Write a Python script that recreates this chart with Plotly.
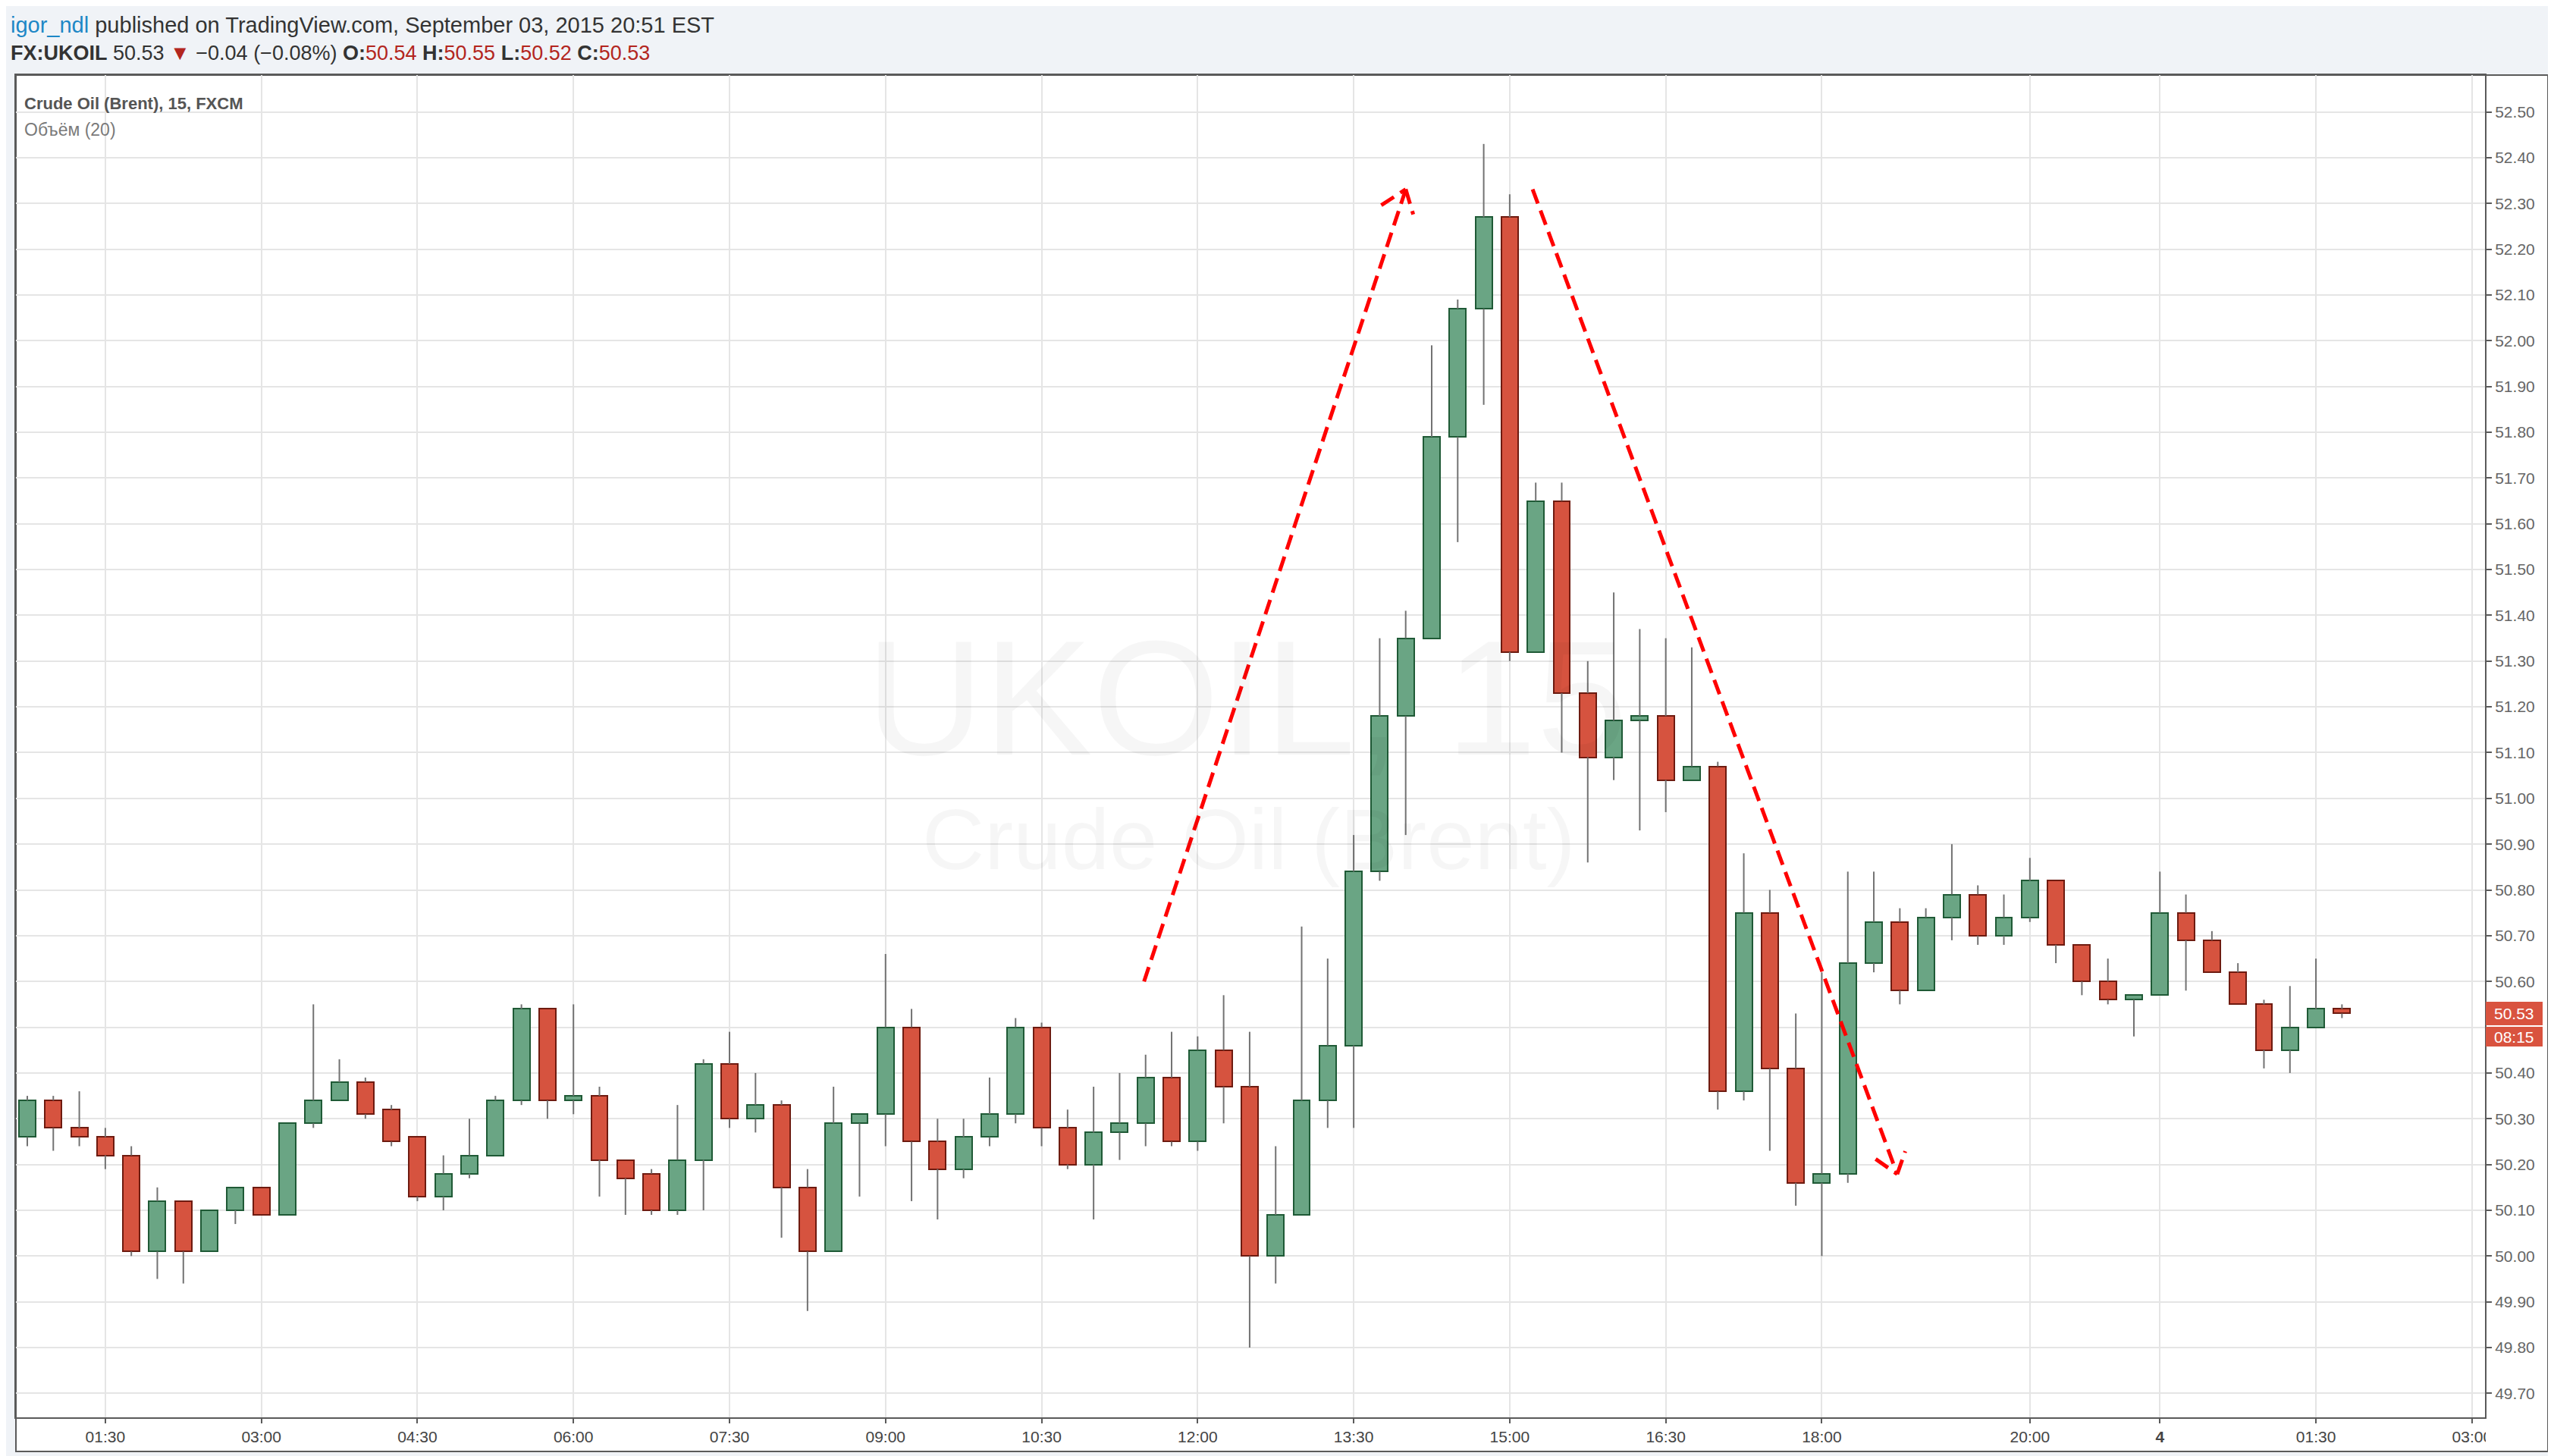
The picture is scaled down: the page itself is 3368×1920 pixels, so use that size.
import plotly.graph_objects as go

# ---------------- data (15-minute candles, FX:UKOIL) ----------------
candle_index = list(range(90))
open_ = [50.26, 50.34, 50.28, 50.26, 50.22, 50.01, 50.12, 50.01, 50.10, 50.15,
         50.09, 50.29, 50.34, 50.38, 50.32, 50.26, 50.13, 50.18, 50.22, 50.34,
         50.54, 50.34, 50.35, 50.21, 50.18, 50.10, 50.21, 50.42, 50.30, 50.33,
         50.15, 50.01, 50.29, 50.31, 50.50, 50.25, 50.19, 50.26, 50.31, 50.50,
         50.28, 50.20, 50.27, 50.29, 50.39, 50.25, 50.45, 50.37, 50.00, 50.09,
         50.34, 50.46, 50.84, 51.18, 51.35, 51.79, 52.07, 52.27, 51.32, 51.65,
         51.23, 51.09, 51.17, 51.18, 51.04, 51.07, 50.36, 50.75, 50.41, 50.16,
         50.18, 50.64, 50.73, 50.58, 50.74, 50.79, 50.70, 50.74, 50.82, 50.68,
         50.60, 50.56, 50.57, 50.75, 50.69, 50.62, 50.55, 50.45, 50.50, 50.54]
high = [50.35, 50.35, 50.36, 50.28, 50.24, 50.15, 50.12, 50.10, 50.15, 50.15,
        50.29, 50.55, 50.43, 50.39, 50.33, 50.26, 50.22, 50.30, 50.35, 50.55,
        50.54, 50.55, 50.37, 50.21, 50.19, 50.33, 50.43, 50.49, 50.40, 50.34,
        50.19, 50.37, 50.31, 50.66, 50.54, 50.30, 50.30, 50.39, 50.52, 50.51,
        50.32, 50.37, 50.40, 50.44, 50.49, 50.48, 50.57, 50.49, 50.24, 50.72,
        50.65, 50.92, 51.35, 51.41, 51.99, 52.09, 52.43, 52.32, 51.69, 51.69,
        51.30, 51.45, 51.37, 51.35, 51.33, 51.08, 50.88, 50.80, 50.53, 50.62,
        50.84, 50.84, 50.76, 50.76, 50.90, 50.81, 50.79, 50.87, 50.82, 50.68,
        50.65, 50.57, 50.84, 50.79, 50.71, 50.64, 50.56, 50.59, 50.65, 50.55]
low = [50.24, 50.23, 50.24, 50.19, 50.00, 49.95, 49.94, 50.01, 50.07, 50.09,
       50.09, 50.28, 50.34, 50.30, 50.24, 50.12, 50.10, 50.17, 50.22, 50.33,
       50.30, 50.31, 50.13, 50.09, 50.09, 50.09, 50.10, 50.28, 50.27, 50.04,
       49.88, 50.01, 50.13, 50.24, 50.12, 50.08, 50.17, 50.24, 50.29, 50.24,
       50.19, 50.08, 50.21, 50.24, 50.24, 50.23, 50.29, 49.80, 49.94, 50.09,
       50.28, 50.28, 50.82, 50.92, 51.35, 51.56, 51.86, 51.30, 51.32, 51.10,
       50.86, 51.04, 50.93, 50.97, 51.04, 50.32, 50.34, 50.23, 50.11, 50.00,
       50.16, 50.62, 50.55, 50.58, 50.69, 50.68, 50.68, 50.73, 50.64, 50.57,
       50.55, 50.48, 50.57, 50.58, 50.62, 50.55, 50.41, 50.40, 50.50, 50.52]
close = [50.34, 50.28, 50.26, 50.22, 50.01, 50.12, 50.01, 50.10, 50.15, 50.09,
         50.29, 50.34, 50.38, 50.31, 50.25, 50.13, 50.18, 50.22, 50.34, 50.54,
         50.34, 50.35, 50.21, 50.17, 50.10, 50.21, 50.42, 50.30, 50.33, 50.15,
         50.01, 50.29, 50.31, 50.50, 50.25, 50.19, 50.26, 50.31, 50.50, 50.28,
         50.20, 50.27, 50.29, 50.39, 50.25, 50.45, 50.37, 50.00, 50.09, 50.34,
         50.46, 50.84, 51.18, 51.35, 51.79, 52.07, 52.27, 51.32, 51.65, 51.23,
         51.09, 51.17, 51.18, 51.04, 51.07, 50.36, 50.75, 50.41, 50.16, 50.18,
         50.64, 50.73, 50.58, 50.74, 50.79, 50.70, 50.74, 50.82, 50.68, 50.60,
         50.56, 50.57, 50.75, 50.69, 50.62, 50.55, 50.45, 50.50, 50.54, 50.53]

tick_index = [3, 9, 15, 21, 27, 33, 39, 45, 51, 57, 63, 69, 77, 82, 88, 94]
tick_text = ["01:30", "03:00", "04:30", "06:00", "07:30", "09:00", "10:30", "12:00",
             "13:30", "15:00", "16:30", "18:00", "20:00", "<b>4</b>", "01:30", "03:00"]
price_ticks = [round(49.70 + 0.1 * k, 2) for k in range(29)]
hidden_price_label = 50.50   # covered by the countdown badge in the original

last_price = 50.53
countdown = "08:15"

# hand-drawn trend arrows (candle index, price)
trend_up = [(42.94, 50.60), (53.00, 52.33)]
trend_up_head = [(52.06, 52.296), (53.00, 52.331), (53.29, 52.276)]
trend_down = [(57.88, 52.331), (71.90, 50.179)]
trend_down_head = [(71.07, 50.212), (71.90, 50.179), (72.21, 50.229)]

# ---------------- layout geometry ----------------
W, H = 3368, 1920
L_PX, R_PX, T_PX, B_PX = 13, 3269, 91, 1861
X_MIN, X_MAX = -0.437, 94.50
Y_MIN, Y_MAX = 49.6476, 52.5805


def px_x(X):
    return (X - L_PX) / (R_PX - L_PX)


def px_y(Y):
    return (B_PX - Y) / (B_PX - T_PX)


def price_at(Y):
    return Y_MIN + (B_PX - Y) / (B_PX - T_PX) * (Y_MAX - Y_MIN)


FONT = "Liberation Sans, Arial, sans-serif"
UP_FILL, UP_LINE = "#6aa584", "#1f5a36"
DN_FILL, DN_LINE = "#d6533f", "#6e1b10"
WICK = "#727272"
GRID = "#e5e5e5"
FRAME = "#5a5a5a"

# ---------------- traces ----------------
wx, wy = [], []
for i, o, h, l, c in zip(candle_index, open_, high, low, close):
    top, bot = max(o, c), min(o, c)
    if h > top:
        wx += [i, i, None]
        wy += [h, top, None]
    if l < bot:
        wx += [i, i, None]
        wy += [bot, l, None]

up = [k for k in range(len(candle_index)) if close[k] >= open_[k]]
dn = [k for k in range(len(candle_index)) if close[k] < open_[k]]

fig = go.Figure()
fig.add_trace(go.Bar(
    x=[candle_index[k] for k in up],
    base=[open_[k] for k in up],
    y=[close[k] - open_[k] for k in up],
    width=0.64, marker=dict(color=UP_FILL, line=dict(color=UP_LINE, width=2)),
    hoverinfo="skip"))
fig.add_trace(go.Bar(
    x=[candle_index[k] for k in dn],
    base=[close[k] for k in dn],
    y=[open_[k] - close[k] for k in dn],
    width=0.64, marker=dict(color=DN_FILL, line=dict(color=DN_LINE, width=2)),
    hoverinfo="skip"))
fig.add_trace(go.Scatter(x=wx, y=wy, mode="lines",
                         line=dict(color=WICK, width=2), hoverinfo="skip"))

# ---------------- shapes ----------------
shapes = []
shapes.append(dict(type="rect", xref="paper", yref="paper", layer="below",
                   x0=0, x1=px_x(3352), y0=px_y(1906), y1=1,
                   fillcolor="white", line=dict(color=FRAME, width=2)))
shapes.append(dict(type="rect", xref="paper", yref="paper", layer="above",
                   x0=px_x(3270), x1=px_x(3351), y0=px_y(1905), y1=px_y(1863),
                   fillcolor="white", line=dict(width=0)))

dash_style = dict(color="#ff0000", width=5, dash="20px,10px")


def add_poly(points):
    for (xa, ya), (xb, yb) in zip(points[:-1], points[1:]):
        shapes.append(dict(type="line", xref="x", yref="y", layer="above",
                           x0=xa, y0=ya, x1=xb, y1=yb, line=dash_style))


add_poly(trend_up)
add_poly(trend_up_head)
add_poly(trend_down)
add_poly(trend_down_head)

shapes.append(dict(type="rect", xref="paper", yref="y", layer="above",
                   x0=px_x(3270), x1=px_x(3345),
                   y0=price_at(1344), y1=price_at(1313),
                   fillcolor="#d9533f", line=dict(width=0)))
shapes.append(dict(type="rect", xref="paper", yref="y", layer="above",
                   x0=px_x(3270), x1=px_x(3345),
                   y0=price_at(1372), y1=price_at(1346),
                   fillcolor="#d9533f", line=dict(width=0)))

# ---------------- annotations ----------------
ann = []
ann.append(dict(xref="paper", yref="paper", x=px_x(4), y=px_y(25),
                xanchor="left", yanchor="middle", showarrow=False,
                font=dict(family=FONT, size=29, color="#333333"),
                text="<span style='color:#1d87c6'>igor_ndl</span> published on TradingView.com, "
                     "September 03, 2015 20:51 EST"))
red = "#b3261e"
ann.append(dict(xref="paper", yref="paper", x=px_x(4), y=px_y(62),
                xanchor="left", yanchor="middle", showarrow=False,
                font=dict(family=FONT, size=27, color="#333333"),
                text=("<b>FX:UKOIL</b> 50.53 <span style='color:%s'>▼</span> −0.04 (−0.08%%) "
                      "<b>O:</b><span style='color:%s'>50.54</span> "
                      "<b>H:</b><span style='color:%s'>50.55</span> "
                      "<b>L:</b><span style='color:%s'>50.52</span> "
                      "<b>C:</b><span style='color:%s'>50.53</span>") % (red, red, red, red, red)))
ann.append(dict(xref="paper", yref="paper", x=px_x(22), y=px_y(129),
                xanchor="left", yanchor="middle", showarrow=False,
                font=dict(family=FONT, size=22, color="#555555"),
                text="<b>Crude Oil (Brent), 15, FXCM</b>"))
ann.append(dict(xref="paper", yref="paper", x=px_x(22), y=px_y(163),
                xanchor="left", yanchor="middle", showarrow=False,
                font=dict(family=FONT, size=23, color="#7a7a7a"),
                text="Объём (20)"))
ann.append(dict(xref="paper", yref="paper", x=px_x(1636), y=px_y(912),
                xanchor="center", yanchor="middle", showarrow=False,
                font=dict(family=FONT, size=215, color="rgba(0,0,0,0.035)"),
                text="UKOIL, 15"))
ann.append(dict(xref="paper", yref="paper", x=px_x(1639), y=px_y(1098),
                xanchor="center", yanchor="middle", showarrow=False,
                font=dict(family=FONT, size=114, color="rgba(0,0,0,0.035)"),
                text="Crude Oil (Brent)"))
ann.append(dict(xref="paper", yref="y", x=px_x(3279), y=last_price,
                xanchor="left", yanchor="middle", showarrow=False,
                font=dict(family=FONT, size=21, color="white"),
                text="%.2f" % last_price))
ann.append(dict(xref="paper", yref="y", x=px_x(3279), y=price_at(1359),
                xanchor="left", yanchor="middle", showarrow=False,
                font=dict(family=FONT, size=21, color="white"),
                text=countdown))

fig.update_layout(
    width=W, height=H,
    margin=dict(l=L_PX, r=W - R_PX, t=T_PX, b=H - B_PX, pad=0),
    paper_bgcolor="#f0f3f7", plot_bgcolor="white",
    showlegend=False, barmode="overlay", bargap=0,
    hovermode=False,
    shapes=shapes, annotations=ann,
    xaxis=dict(range=[X_MIN, X_MAX], tickmode="array", tickvals=tick_index,
               ticktext=tick_text, showgrid=True, gridcolor=GRID, gridwidth=2,
               zeroline=False, showline=True, linecolor=FRAME, linewidth=2,
               mirror=True, ticks="outside", ticklen=6, tickwidth=2,
               tickcolor=FRAME,
               tickfont=dict(family=FONT, size=21, color="#444444")),
    yaxis=dict(range=[Y_MIN, Y_MAX], side="right", tickmode="array",
               tickvals=price_ticks,
               ticktext=["" if abs(v - hidden_price_label) < 1e-9 else "%.2f" % v
                         for v in price_ticks],
               showgrid=True, gridcolor=GRID, gridwidth=2, zeroline=False,
               showline=True, linecolor=FRAME, linewidth=2, mirror=True,
               ticks="outside", ticklen=7, tickwidth=2, tickcolor=FRAME,
               tickfont=dict(family=FONT, size=21, color="#666666")),
)

fig.write_html("out.html")
